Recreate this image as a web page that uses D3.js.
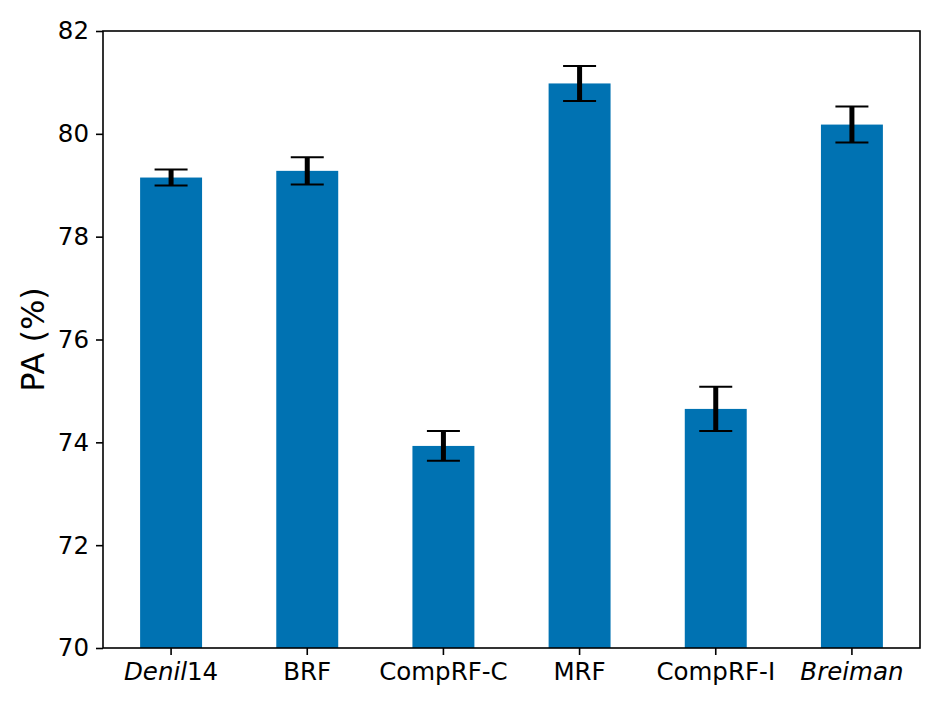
<!DOCTYPE html>
<html>
<head>
<meta charset="utf-8">
<script src="https://cdn.jsdelivr.net/npm/d3@7"></script>
<style>
  body { margin: 0; background: #fff; }
  text { font-family: "DejaVu Sans", sans-serif; }
</style>
</head>
<body>
<div id="chart"></div>
<script>
const methods = ["Denil14", "BRF", "CompRF-C", "MRF", "CompRF-I", "Breiman"];
const pa = [79.15, 79.28, 73.93, 80.98, 74.65, 80.18];
const paErr = [0.155, 0.265, 0.29, 0.34, 0.43, 0.35];
const yTicks = [70, 72, 74, 76, 78, 80, 82];

(function pa_bars() {
  const width = 944,
    height = 708,
    margin = {top: 31, right: 24, bottom: 60, left: 103};

  const svg = d3.select("#chart")
    .append("svg")
    .attr("width", width)
    .attr("height", height);

  const data = methods.map((m, i) => ({method: m, value: pa[i], err: paErr[i]}));

  let x = d3.scaleBand(methods, [margin.left, width - margin.right])
    .paddingInner(0.545)
    .paddingOuter(0.2725);

  let y = d3.scaleLinear([70, 82], [height - margin.bottom, margin.top]);

  svg.append("g")
    .selectAll("rect")
    .data(data)
    .join("rect")
    .attr("x", d => x(d.method))
    .attr("y", d => y(d.value))
    .attr("width", x.bandwidth())
    .attr("height", d => y(70) - y(d.value))
    .attr("fill", "#0072b2");

  // error bars
  const eb = svg.append("g")
    .selectAll("g")
    .data(data)
    .join("g")
    .attr("transform", d => `translate(${x(d.method) + x.bandwidth() / 2},0)`);

  eb.append("line")
    .attr("y1", d => y(d.value - d.err))
    .attr("y2", d => y(d.value + d.err))
    .attr("stroke", "#000")
    .attr("stroke-width", 5);

  eb.selectAll(".cap")
    .data(d => [d.value - d.err, d.value + d.err])
    .join("line")
    .attr("class", "cap")
    .attr("x1", -16.5)
    .attr("x2", 16.5)
    .attr("y1", d => y(d))
    .attr("y2", d => y(d))
    .attr("stroke", "#000")
    .attr("stroke-width", 2);

  // axes
  const yAxis = svg.append("g")
    .attr("transform", `translate(${margin.left},0)`)
    .call(d3.axisLeft(y).tickValues(yTicks).tickSize(7).tickPadding(7));

  const xAxis = svg.append("g")
    .attr("transform", `translate(0,${height - margin.bottom})`)
    .call(d3.axisBottom(x).tickSize(7).tickPadding(8));

  [xAxis, yAxis].forEach(g => {
    g.select(".domain").remove();
    g.selectAll("line").attr("stroke", "#000").attr("stroke-width", 1.6);
    g.selectAll("text")
      .attr("fill", "#000")
      .style("font-size", "24.5px")
      .style("font-family", "DejaVu Sans, sans-serif");
  });

  // mathtext-ish italics for some labels
  xAxis.selectAll(".tick text").each(function(d) {
    const t = d3.select(this);
    if (d === "Denil14") {
      t.text(null);
      t.append("tspan").style("font-style", "italic").text("Denil");
      t.append("tspan").text("14");
    } else if (d === "Breiman") {
      t.style("font-style", "italic");
    }
  });

  // frame
  svg.append("rect")
    .attr("x", margin.left)
    .attr("y", margin.top)
    .attr("width", width - margin.left - margin.right)
    .attr("height", height - margin.top - margin.bottom)
    .attr("fill", "none")
    .attr("stroke", "#000")
    .attr("stroke-width", 1.6);

  svg.append("text")
    .attr("text-anchor", "middle")
    .attr("transform", `translate(44,${(margin.top + height - margin.bottom) / 2}) rotate(-90)`)
    .style("font-size", "32px")
    .text("PA (%)");
})();
</script>
</body>
</html>
